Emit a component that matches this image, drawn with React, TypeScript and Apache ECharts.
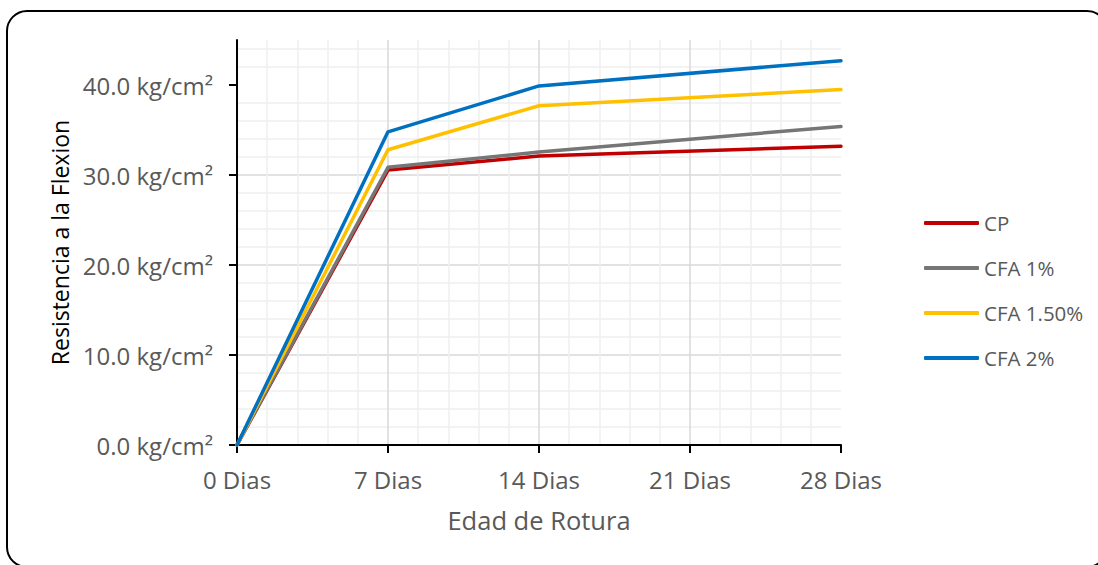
import React, { useEffect, useRef } from "react";
import * as echarts from "echarts";

const days = [0, 7, 14, 28];
const seriesNames = ["CP", "CFA 1%", "CFA 1.50%", "CFA 2%"];
const cpValues = [0, 30.55, 32.1, 33.2];
const cfa1Values = [0, 30.85, 32.55, 35.4];
const cfa15Values = [0, 32.8, 37.7, 39.5];
const cfa2Values = [0, 34.8, 39.9, 42.7];
const colors = ["#C00000", "#767676", "#FFC000", "#0070C0"];
const yTicks = [0, 10, 20, 30, 40];
const xTicks = [0, 7, 14, 21, 28];

const FONT = "'Open Sans', sans-serif";

export default function App() {
  const ref = useRef<HTMLDivElement>(null);
  useEffect(() => {
    if (!ref.current) return;
    const chart = echarts.init(ref.current, null, { renderer: "svg" });
    const all = [cpValues, cfa1Values, cfa15Values, cfa2Values];
    chart.setOption({
      animation: false,
      backgroundColor: "#ffffff",
      grid: { left: 237, top: 40, right: 257, bottom: 120, containLabel: false },
      graphic: [
        {
          type: "rect",
          shape: { x: 7, y: 11, width: 1100, height: 556, r: 20 },
          style: { fill: "none", stroke: "#000", lineWidth: 2 },
          silent: true,
          z: -10,
        },
      ],
      legend: {
        orient: "vertical",
        left: 919,
        top: 206,
        itemWidth: 55,
        itemHeight: 4,
        itemGap: 21,
        icon: "roundRect",
        data: seriesNames,
        textStyle: { fontFamily: FONT, fontSize: 20.5, color: "#595959", lineHeight: 24 },
      },
      xAxis: {
        type: "value",
        min: 0,
        max: 28,
        interval: 7,
        name: "Edad de Rotura",
        nameLocation: "middle",
        nameGap: 62,
        nameTextStyle: { fontFamily: FONT, fontSize: 25.5, color: "#595959" },
        axisLine: { show: true, onZero: false, lineStyle: { color: "#000", width: 2 } },
        axisTick: { show: true, length: 8, customValues: xTicks, lineStyle: { color: "#000", width: 2 } },
        axisLabel: {
          customValues: xTicks,
          formatter: (v: number) => `${v} Dias`,
          fontFamily: FONT,
          fontSize: 24,
          color: "#595959",
          margin: 22,
        },
        splitLine: { show: true, showMinLine: false, showMaxLine: false, lineStyle: { color: "#d9d9d9", width: 1.5 } },
        minorTick: { show: false, splitNumber: 5 },
        minorSplitLine: { show: true, lineStyle: { color: "#efefef", width: 1.5 } },
      },
      yAxis: {
        type: "value",
        min: 0,
        max: 45,
        interval: 10,
        name: "Resistencia a la Flexion",
        nameLocation: "middle",
        nameRotate: 90,
        nameGap: 165,
        nameTextStyle: { fontFamily: FONT, fontSize: 23, color: "#000" },
        axisLine: { show: true, lineStyle: { color: "#000", width: 2 } },
        axisTick: { show: true, length: 8, customValues: yTicks, lineStyle: { color: "#000", width: 2 } },
        axisLabel: {
          customValues: yTicks,
          formatter: (v: number) => `${v.toFixed(1)} kg/cm²`,
          fontFamily: FONT,
          fontSize: 24,
          color: "#595959",
          margin: 24,
        },
        splitLine: { show: true, showMinLine: false, showMaxLine: false, lineStyle: { color: "#d9d9d9", width: 1.5 } },
        minorTick: { show: false, splitNumber: 5 },
        minorSplitLine: { show: true, lineStyle: { color: "#efefef", width: 1.5 } },
      },
      series: seriesNames.map((name, i) => ({
        name,
        type: "line",
        data: days.map((d, j) => [d, all[i][j]]),
        showSymbol: false,
        symbol: "none",
        lineStyle: { width: 3.5, color: colors[i], cap: "round", join: "round" },
        itemStyle: { color: colors[i] },
      })),
    });
    return () => chart.dispose();
  }, []);
  return (
    <div
      ref={ref}
      style={{ position: "fixed", left: 0, top: 0, width: 1098, height: 565 }}
    />
  );
}
